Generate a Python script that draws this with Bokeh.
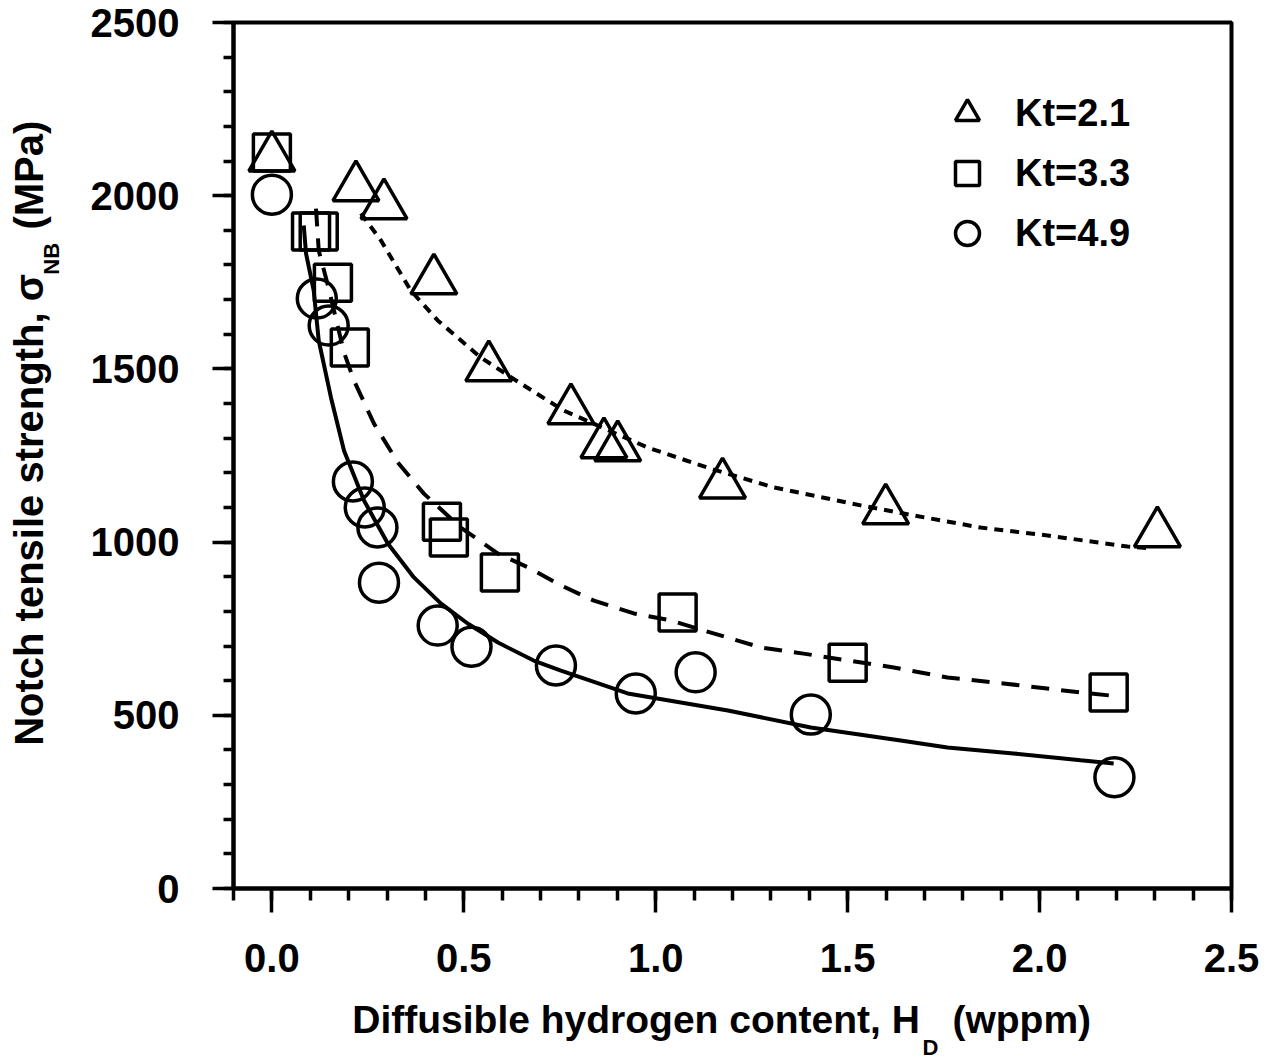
import math
from bokeh.plotting import figure
from bokeh.models import (Range1d, SingleIntervalTicker, NumeralTickFormatter,
                          Label, Legend, LegendItem)
from bokeh.embed import file_html
from bokeh.resources import INLINE

# ---------------- data ----------------
series_labels = ["Kt=2.1", "Kt=3.3", "Kt=4.9"]

kt21_x = [0.0, 0.219, 0.292, 0.422, 0.565, 0.779, 0.865, 0.901, 1.174, 1.599, 2.307]
kt21_y = [2110, 2024, 1972, 1755, 1504, 1380, 1282, 1273, 1166, 1091, 1025]

kt33_x = [0.0, 0.102, 0.122, 0.159, 0.203, 0.443, 0.461, 0.594, 1.057, 1.500, 2.180]
kt33_y = [2125, 1897, 1897, 1749, 1562, 1059, 1013, 912, 797, 652, 566]

kt49_x = [0.0, 0.117, 0.148, 0.211, 0.242, 0.275, 0.279, 0.432, 0.520, 0.740,
          0.948, 1.104, 1.404, 2.195]
kt49_y = [2003, 1703, 1625, 1175, 1100, 1042, 883, 759, 698, 644,
          563, 624, 502, 321]

# fitted curves
fit21_x = [0.232, 0.284, 0.362, 0.432, 0.544, 0.648, 0.760, 0.979, 1.143, 1.307,
           1.534, 1.672, 1.846, 2.021, 2.229, 2.289]
fit21_y = [1949, 1871, 1726, 1640, 1533, 1458, 1380, 1273, 1212, 1158,
           1106, 1077, 1042, 1019, 987, 982]

fit33_x = [0.115, 0.122, 0.146, 0.188, 0.214, 0.266, 0.328, 0.396, 0.492, 0.589,
           0.667, 0.753, 0.839, 0.943, 1.039, 1.125, 1.273, 1.385, 1.620, 1.760,
           1.906, 2.107, 2.185]
fit33_y = [1963, 1842, 1741, 1547, 1466, 1342, 1230, 1140, 1042, 967,
           927, 875, 831, 794, 774, 745, 696, 678, 638, 609,
           592, 566, 557]

fit49_x = [0.083, 0.089, 0.109, 0.122, 0.154, 0.188, 0.240, 0.302, 0.370, 0.440,
           0.510, 0.589, 0.682, 0.753, 0.927, 1.188, 1.404, 1.638, 1.760, 1.932,
           2.107, 2.193]
fit49_y = [1914, 1833, 1726, 1582, 1417, 1264, 1120, 996, 898, 823,
           765, 710, 658, 629, 563, 514, 465, 427, 407, 390,
           370, 361]

NB = "\u00a0"
x_title_main = "Diffusible hydrogen content, H" + NB * 3 + "(wppm)" + NB * 2
x_title_sub = "D"
y_title_main = NB * 4 + "Notch tensile strength, \u03c3" + NB * 4 + "(MPa)"
y_title_sub = "NB"

FONT = "Liberation Sans"

# ---------------- figure ----------------
p = figure(width=1281, height=1059, output_backend="svg", toolbar_location=None,
           x_range=Range1d(-0.1, 2.5), y_range=Range1d(0, 2500),
           min_border_left=233, min_border_right=50,
           min_border_top=22, min_border_bottom=171)
p.grid.visible = False
p.outline_line_color = "black"
p.outline_line_width = 4
p.background_fill_color = "white"
p.border_fill_color = "white"

p.xaxis.ticker = SingleIntervalTicker(interval=0.5, num_minor_ticks=5)
p.yaxis.ticker = SingleIntervalTicker(interval=500, num_minor_ticks=5)
p.xaxis.formatter = NumeralTickFormatter(format="0.0")

for ax in (p.xaxis[0], p.yaxis[0]):
    ax.axis_line_width = 4
    ax.axis_line_color = "black"
    ax.major_tick_line_width = 3.5
    ax.minor_tick_line_width = 3.5
    ax.major_tick_line_color = "black"
    ax.minor_tick_line_color = "black"
    ax.major_tick_in = 0
    ax.minor_tick_in = 0
    ax.major_label_text_font = FONT
    ax.major_label_text_font_style = "bold"
    ax.major_label_text_font_size = "40px"
    ax.major_label_text_color = "black"
    ax.axis_label_text_font = FONT
    ax.axis_label_text_font_style = "bold"
    ax.axis_label_text_color = "black"

p.xaxis.major_tick_out = 24
p.xaxis.minor_tick_out = 12
p.xaxis.major_label_standoff = 31
p.xaxis.axis_label = x_title_main
p.xaxis.axis_label_standoff = 23
p.xaxis.axis_label_text_font_size = "39px"

p.yaxis.major_tick_out = 21
p.yaxis.minor_tick_out = 10
p.yaxis.major_label_standoff = 33
p.yaxis.axis_label = y_title_main
p.yaxis.axis_label_standoff = 37
p.yaxis.axis_label_text_font_size = "40px"

# curves
p.line(fit21_x, fit21_y, line_color="black", line_width=4, line_dash="9 7")
p.line(fit33_x, fit33_y, line_color="black", line_width=4, line_dash="18 12")
p.line(fit49_x, fit49_y, line_color="black", line_width=4)

# markers
r21 = p.scatter(kt21_x, kt21_y, marker="triangle", size=46, fill_alpha=0,
                line_color="black", line_width=3.5)
r33 = p.scatter(kt33_x, kt33_y, marker="square", size=37, fill_alpha=0,
                line_color="black", line_width=3.5)
r49 = p.scatter(kt49_x, kt49_y, marker="circle", size=39, fill_alpha=0,
                line_color="black", line_width=3.5)

legend = Legend(items=[LegendItem(label=series_labels[0], renderers=[r21]),
                       LegendItem(label=series_labels[1], renderers=[r33]),
                       LegendItem(label=series_labels[2], renderers=[r49])],
                location=(704, 625), glyph_width=60, glyph_height=60,
                label_height=60, label_standoff=18, spacing=0, padding=0,
                margin=0, border_line_alpha=0, background_fill_alpha=0,
                label_text_font=FONT, label_text_font_style="bold",
                label_text_font_size="38px", label_text_color="black")
p.add_layout(legend)

# subscripts of the axis titles (placed in a side panel so they are not clipped)
sub_common = dict(x_units="data", y_units="data", text_font=FONT,
                  text_font_style="bold", text_color="black",
                  text_baseline="alphabetic", text_align="left",
                  text_font_size="22px")
p.add_layout(Label(x=1.695, y=-459, text=x_title_sub, **sub_common), "right")
p.add_layout(Label(x=-0.573, y=1772, text=y_title_sub, angle=math.pi / 2,
                   **sub_common), "right")

open("out.html", "w").write(file_html(p, INLINE))
